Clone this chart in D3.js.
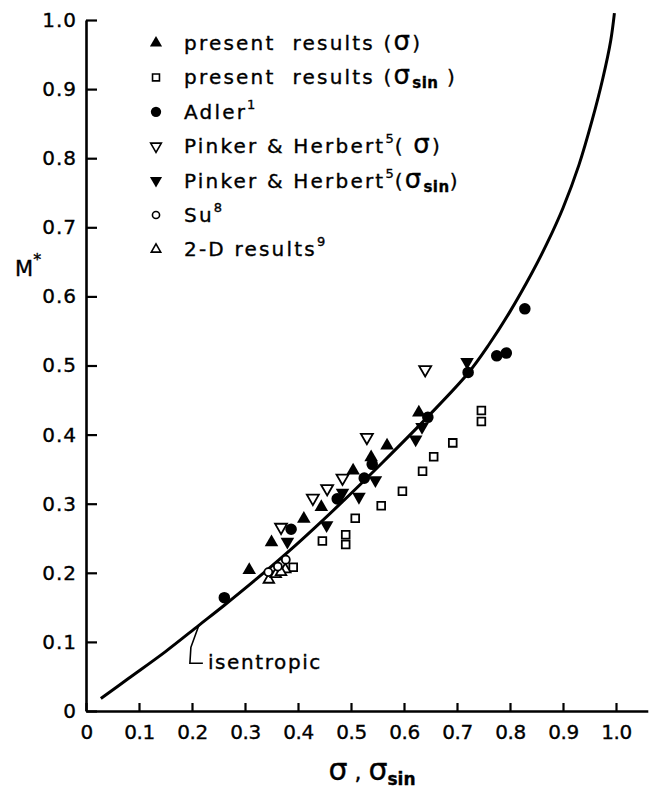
<!DOCTYPE html>
<html><head><meta charset="utf-8">
<script src="https://cdn.jsdelivr.net/npm/d3@7"></script>
<style>
body{margin:0;background:#fff}
svg{display:block;background:#fff}
text{font-family:"DejaVu Sans",sans-serif;fill:#000;stroke:#000;stroke-width:0.35px}
</style>
</head><body>
<svg id="chart" width="650" height="792"></svg>
<script>
// ---- tick values / labels ----
const xTickValues = [0,0.1,0.2,0.3,0.4,0.5,0.6,0.7,0.8,0.9,1.0];
const xTickLabels = ["0","0.1","0.2","0.3","0.4","0.5","0.6","0.7","0.8","0.9","1.0"];
const yTickValues = [0,0.1,0.2,0.3,0.4,0.5,0.6,0.7,0.8,0.9,1.0];
const yTickLabels = ["0","0.1","0.2","0.3","0.4","0.5","0.6","0.7","0.8","0.9","1.0"];

// ---- isentropic curve (sigma, M*) ----
const isentropicSigma = [0.028,0.080,0.150,0.213,0.261,0.320,0.400,0.480,0.560,0.645,0.720,0.760,0.800,0.840,0.870,0.900,0.930,0.955,0.975,0.990,0.997];
const isentropicM     = [0.018,0.047,0.086,0.124,0.153,0.190,0.243,0.300,0.360,0.426,0.488,0.530,0.578,0.632,0.677,0.728,0.790,0.855,0.915,0.970,1.010];

// ---- data series [sigma, M*] ----
const presentSigma = [[0.308,0.204],[0.350,0.244],[0.411,0.278],[0.444,0.295],[0.504,0.348],[0.538,0.367],[0.568,0.384],[0.628,0.432]];
const presentSigmaSin = [[0.391,0.208],[0.446,0.246],[0.490,0.255],[0.490,0.241],[0.508,0.279],[0.557,0.297],[0.597,0.318],[0.635,0.347],[0.656,0.368],[0.692,0.388],[0.746,0.435],[0.746,0.419]];
const adler = [[0.261,0.164],[0.387,0.263],[0.474,0.307],[0.525,0.337],[0.540,0.357],[0.645,0.425],[0.721,0.490],[0.775,0.514],[0.793,0.518],[0.828,0.582]];
const pinkerSigma = [[0.368,0.266],[0.428,0.308],[0.455,0.322],[0.484,0.337],[0.530,0.396],[0.640,0.494]];
const pinkerSigmaSin = [[0.380,0.245],[0.454,0.269],[0.484,0.316],[0.515,0.310],[0.546,0.334],[0.622,0.393],[0.634,0.411],[0.719,0.505]];
const su = [[0.344,0.201],[0.362,0.209],[0.377,0.219]];
const twoD = [[0.345,0.190],[0.358,0.198],[0.376,0.205],[0.368,0.201]];

// legend label pieces: [text, kind] kind 0 normal, 1 sigma, 2 subscript, 3 superscript
const legendParts = [
  [["present  results (",0],["σ",1],[")",0]],
  [["present  results (",0],["σ",1],["sin",2],[" )",0]],
  [["Adler",0],["1",3]],
  [["Pinker & Herbert",0],["5",3],["( ",0],["σ",1],[")",0]],
  [["Pinker & Herbert",0],["5",3],["(",0],["σ",1],["sin",2],[")",0]],
  [["Su",0],["8",3]],
  [["2-D results",0],["9",3]]
];

// ---- scales ----
const svg = d3.select("#chart");
const x = d3.scaleLinear().domain([0,1.06]).range([86, 86+530*1.06]);
const y = d3.scaleLinear().domain([0,1]).range([711,20]);

// ---- axes ----
const yAxis = d3.axisLeft(y).tickValues(yTickValues)
  .tickFormat((d,i)=>yTickLabels[i]).tickSizeInner(-11).tickSizeOuter(0).tickPadding(9);
const gy = svg.append("g").attr("transform",`translate(${x(0)},0)`).call(yAxis);
gy.select(".domain").attr("stroke","#000").attr("stroke-width",2.6);
gy.selectAll(".tick line").attr("stroke","#000").attr("stroke-width",2.2);
gy.selectAll(".tick text").attr("font-size",20).attr("font-family","DejaVu Sans").attr("letter-spacing","1px").attr("fill","#000");

const xAxis = d3.axisBottom(x).tickValues(xTickValues)
  .tickFormat((d,i)=>xTickLabels[i]).tickSizeInner(-8).tickSizeOuter(0).tickPadding(14);
const gx = svg.append("g").attr("transform",`translate(0,${y(0)})`).call(xAxis);
gx.select(".domain").attr("stroke","#000").attr("stroke-width",2.6);
gx.selectAll(".tick line").attr("stroke","#000").attr("stroke-width",2.2);
gx.selectAll(".tick text").attr("font-size",20).attr("font-family","DejaVu Sans").attr("fill","#000").attr("letter-spacing","-0.5px");

// ---- isentropic curve ----
const curvePts = isentropicSigma.map((s,i)=>[s,isentropicM[i]]);
svg.append("path").datum(curvePts)
  .attr("d", d3.line().x(d=>x(d[0])).y(d=>y(d[1])).curve(d3.curveCatmullRom.alpha(0.5)))
  .attr("fill","none").attr("stroke","#000").attr("stroke-width",3);

// isentropic annotation
const ax = x(0.213), ay = y(0.124);
svg.append("path")
  .attr("d",`M${ax},${ay} L${ax-8},${ay+22} L${ax-9},${ay+38} L${ax+4},${ay+38}`)
  .attr("fill","none").attr("stroke","#000").attr("stroke-width",1.6);
svg.append("text").attr("x",ax+9).attr("y",ay+44).attr("font-size",20).attr("letter-spacing","1.6px").text("isentropic");

// ---- markers ----
const styles = [
  {data:presentSigma,   type:d3.symbolTriangle, size:80, rot:0,   fill:"#000", stroke:"none"},
  {data:presentSigmaSin,type:d3.symbolSquare,   size:60, rot:0,   fill:"#fff", stroke:"#000"},
  {data:adler,          type:d3.symbolCircle,   size:105,rot:0,   fill:"#000", stroke:"none"},
  {data:pinkerSigma,    type:d3.symbolTriangle, size:62, rot:180, fill:"#fff", stroke:"#000"},
  {data:pinkerSigmaSin, type:d3.symbolTriangle, size:80, rot:180, fill:"#000", stroke:"none"},
  {data:su,             type:d3.symbolCircle,   size:50, rot:0,   fill:"#fff", stroke:"#000"},
  {data:twoD,           type:d3.symbolTriangle, size:48, rot:0,   fill:"#fff", stroke:"#000"}
];
const drawOrder = [1,6,5,3,0,4,2];
drawOrder.forEach(k=>{
  const s = styles[k];
  svg.append("g").selectAll("path").data(s.data).join("path")
    .attr("d", d3.symbol().type(s.type).size(s.size)())
    .attr("transform", d=>`translate(${x(d[0])},${y(d[1])}) rotate(${s.rot})`)
    .attr("fill", s.fill).attr("stroke", s.stroke).attr("stroke-width",1.8);
});

// ---- legend ----
const lg = svg.append("g");
styles.forEach((s,i)=>{
  const cy = 43 + i*34.4;
  lg.append("path").attr("d", d3.symbol().type(s.type).size(s.size*0.8)())
    .attr("transform",`translate(156,${cy}) rotate(${s.rot})`)
    .attr("fill", s.fill).attr("stroke", s.stroke).attr("stroke-width",1.6);
  const t = lg.append("text").attr("x",184).attr("y",cy+7).attr("font-size",20)
    .attr("letter-spacing","2.2px").style("white-space","pre");
  let shift = 0;
  legendParts[i].forEach(([str,kind])=>{
    const ts = t.append("tspan").text(str);
    let dy = 0;
    if(kind===1){ ts.attr("font-size",26); }
    if(kind===2){ ts.attr("font-size",15).attr("font-weight","bold").attr("letter-spacing","0.5px"); dy = 4; }
    if(kind===3){ ts.attr("font-size",13).attr("letter-spacing","1px"); dy = -10; }
    const total = dy - shift;
    if(total!==0) ts.attr("dy", total);
    shift = dy;
  });
});

// ---- axis titles ----
const my = svg.append("text").attr("x",15).attr("y",276).attr("font-size",21);
my.append("tspan").text("M");
my.append("tspan").attr("font-size",16).attr("dy",-11).text("*");

const xt = svg.append("text").attr("x",372).attr("y",780).attr("text-anchor","middle").attr("font-size",22).style("white-space","pre");
xt.append("tspan").attr("font-size",30).text("σ");
xt.append("tspan").text(" , ");
xt.append("tspan").attr("font-size",30).text("σ");
xt.append("tspan").attr("font-size",17).attr("font-weight","bold").attr("dy",5).text("sin");
</script>
</body></html>
